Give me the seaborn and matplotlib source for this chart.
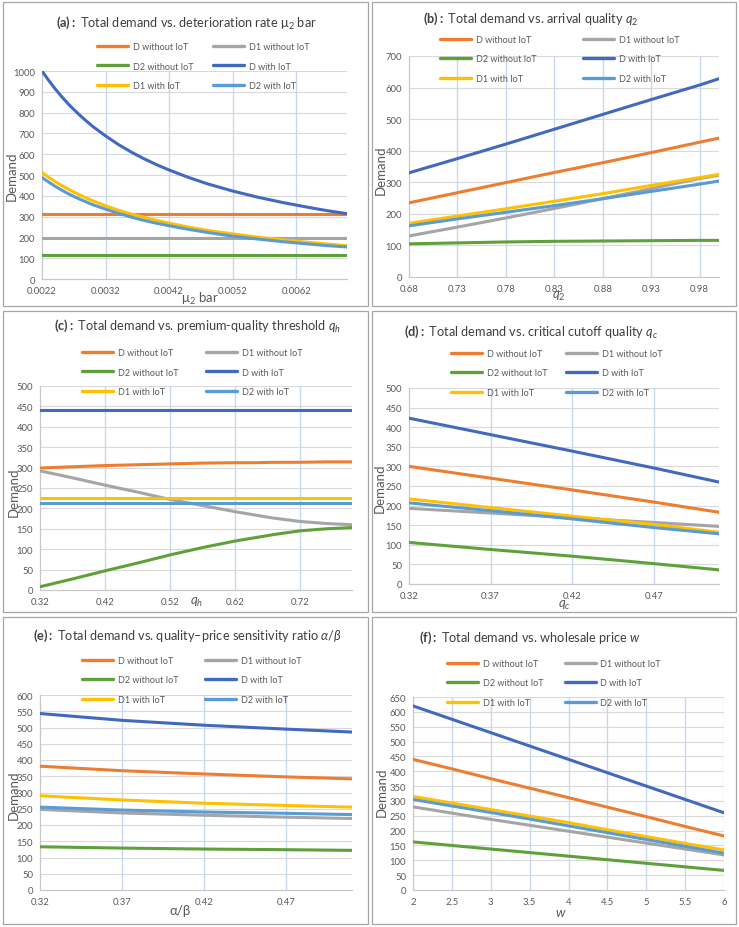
import matplotlib
matplotlib.use('Agg')
import matplotlib.pyplot as plt
import seaborn as sns
import pandas as pd
from matplotlib.patches import Rectangle

# ---------------- data ----------------
series = ['D without IoT', 'D1 without IoT', 'D2 without IoT',
          'D with IoT', 'D1 with IoT', 'D2 with IoT']
colors = ['#ED7D31', '#A5A5A5', '#5FA03A', '#4169C0', '#FFC000', '#5B9BD5']

# (a) deterioration rate mu2 bar
a_x = [0.0022, 0.0023, 0.0024, 0.0025, 0.0026, 0.0027, 0.0028, 0.0029, 0.0030,
       0.0032, 0.0034, 0.0036, 0.0038, 0.0040, 0.0042, 0.0045, 0.0048, 0.0052,
       0.0056, 0.0060, 0.0064, 0.0067, 0.0070]
a_d_wo = [312, 312, 312, 312, 312, 312, 312, 312, 312, 312, 312, 312,
          312, 312, 312, 312, 312, 312, 312, 312, 312, 312, 312]
a_d1_wo = [198, 198, 198, 198, 198, 198, 198, 198, 198, 198, 198, 198,
           198, 198, 198, 198, 198, 198, 198, 198, 198, 198, 198]
a_d2_wo = [113, 113, 113, 113, 113, 113, 113, 113, 113, 113, 113, 113,
           113, 113, 113, 113, 113, 113, 113, 113, 113, 113, 113]
a_d_w = [1000, 957, 917, 880, 846, 815, 786, 759, 733, 688, 647, 611,
         579, 550, 524, 489, 458, 423, 393, 367, 344, 328, 314]
a_d1_w = [512, 490, 470, 451, 434, 418, 403, 389, 376, 352, 331, 313,
          297, 282, 268, 250, 234, 217, 201, 188, 176, 168, 160]
a_d2_w = [488, 467, 447, 429, 412, 397, 383, 370, 357, 336, 316, 298,
          282, 268, 256, 239, 224, 206, 192, 179, 168, 160, 154]

# (b) arrival quality q2
b_x = [0.68, 0.73, 0.78, 0.83, 0.88, 0.93, 0.98, 1.00]
b_d_wo = [235, 267, 299, 331, 362, 394, 427, 440]
b_d1_wo = [130, 158, 187, 217, 248, 280, 312, 322]
b_d2_wo = [105, 108, 111, 113, 114, 115, 116, 116]
b_d_w = [330, 375, 421, 468, 515, 562, 608, 628]
b_d1_w = [170, 193, 216, 240, 264, 290, 315, 325]
b_d2_w = [162, 184, 205, 226, 248, 271, 294, 304]

# (c) premium-quality threshold qh
c_x = [0.32, 0.37, 0.42, 0.47, 0.52, 0.57, 0.62, 0.65, 0.68, 0.72, 0.76, 0.80]
c_d_wo = [299, 302, 305, 307, 309, 311, 312, 312, 313, 313, 314, 314]
c_d1_wo = [292, 275, 257, 240, 222, 207, 192, 184, 176, 168, 163, 160]
c_d2_wo = [8, 27, 47, 66, 86, 104, 120, 128, 136, 145, 150, 153]
c_d_w = [440, 440, 440, 440, 440, 440, 440, 440, 440, 440, 440, 440]
c_d1_w = [226, 226, 226, 226, 226, 226, 226, 226, 226, 226, 226, 226]
c_d2_w = [214, 214, 214, 214, 214, 214, 214, 214, 214, 214, 214, 214]

# (d) critical cutoff quality qc
d_x = [0.32, 0.37, 0.42, 0.47, 0.51]
d_d_wo = [300, 270, 240, 209, 183]
d_d1_wo = [193, 181, 169, 157, 147]
d_d2_wo = [106, 88, 71, 52, 36]
d_d_w = [423, 381, 339, 296, 260]
d_d1_w = [217, 195, 173, 152, 132]
d_d2_w = [207, 187, 166, 144, 128]

# (e) quality-price sensitivity ratio alpha/beta
e_x = [0.32, 0.37, 0.42, 0.47, 0.51]
e_d_wo = [381, 367, 357, 348, 342]
e_d1_wo = [248, 237, 230, 224, 220]
e_d2_wo = [133, 129, 126, 124, 122]
e_d_w = [543, 522, 507, 495, 486]
e_d1_w = [290, 277, 267, 260, 255]
e_d2_w = [255, 246, 240, 236, 232]

# (f) wholesale price w
f_x = [2, 2.5, 3, 3.5, 4, 4.5, 5, 5.5, 6]
f_d_wo = [440, 408, 375, 343, 311, 279, 247, 214, 182]
f_d1_wo = [280, 259, 238, 218, 198, 178, 158, 138, 118]
f_d2_wo = [162, 150, 138, 126, 114, 102, 90, 78, 66]
f_d_w = [620, 575, 530, 485, 440, 395, 350, 305, 260]
f_d1_w = [315, 293, 271, 249, 227, 203, 180, 157, 135]
f_d2_w = [305, 283, 261, 239, 216, 193, 170, 147, 124]

a_ticks = [0.0022, 0.0032, 0.0042, 0.0052, 0.0062]
b_ticks = [0.68, 0.73, 0.78, 0.83, 0.88, 0.93, 0.98]
c_ticks = [0.32, 0.42, 0.52, 0.62, 0.72]
d_ticks = [0.32, 0.37, 0.42, 0.47]
f_ticks = [2, 2.5, 3, 3.5, 4, 4.5, 5, 5.5, 6]

# ---------------- style ----------------
sns.set_style('white')
plt.rcParams['font.family'] = ['Lato', 'DejaVu Sans']
plt.rcParams['mathtext.fontset'] = 'custom'
plt.rcParams['mathtext.rm'] = 'Lato'
plt.rcParams['mathtext.it'] = 'Lato:italic'
plt.rcParams['mathtext.bf'] = 'Lato:bold'

W, H = 739, 928
fig = plt.figure(figsize=(W / 100, H / 100), dpi=100)
fig.patch.set_facecolor('white')

# panel frames
for (x0, y0, x1, y1) in [(3, 3, 368, 307), (372, 3, 736, 307),
                         (3, 312, 368, 613), (372, 312, 736, 613),
                         (3, 618, 368, 925), (372, 618, 736, 925)]:
    fig.patches.append(Rectangle((x0 / W, 1 - y1 / H), (x1 - x0) / W, (y1 - y0) / H,
                                 transform=fig.transFigure, fill=False,
                                 edgecolor='#A6A6A6', linewidth=0.9))

panels = [
    dict(box=(42, 72, 347, 280), x=a_x,
         ys=[a_d_wo, a_d1_wo, a_d2_wo, a_d_w, a_d1_w, a_d2_w],
         ticks=a_ticks, fmt='{:.4f}', xlim=(0.0022, 0.0070), ymax=1000, ystep=100,
         title=r'$\bf{(a):}$ Total demand vs. deterioration rate $\mathrm{\mu_2}$ bar',
         tpos=(186, 23), xlabel=r'$\mathrm{\mu_2}$ bar', xlpos=(200, 299), ylpos=(12, 176),
         leg=(97, 67), cs=2.2),
    dict(box=(409, 57, 719, 278), x=b_x,
         ys=[b_d_wo, b_d1_wo, b_d2_wo, b_d_w, b_d1_w, b_d2_w],
         ticks=b_ticks, fmt='{:.2f}', xlim=(0.68, 1.0), ymax=700, ystep=100,
         title=r'$\bf{(b):}$ Total demand vs. arrival quality $q_2$',
         tpos=(531, 19), xlabel=r'$q_2$', xlpos=(559, 296), ylpos=(381, 170),
         leg=(440, 60), cs=5.2),
    dict(box=(40, 387, 352, 591), x=c_x,
         ys=[c_d_wo, c_d1_wo, c_d2_wo, c_d_w, c_d1_w, c_d2_w],
         ticks=c_ticks, fmt='{:.2f}', xlim=(0.32, 0.80), ymax=500, ystep=50,
         title=r'$\bf{(c):}$ Total demand vs. premium-quality threshold $q_h$',
         tpos=(197, 326), xlabel=r'$q_h$', xlpos=(197, 602), ylpos=(14, 492),
         leg=(82, 373), cs=3.1),
    dict(box=(409, 389, 719, 585), x=d_x,
         ys=[d_d_wo, d_d1_wo, d_d2_wo, d_d_w, d_d1_w, d_d2_w],
         ticks=d_ticks, fmt='{:.2f}', xlim=(0.32, 0.51), ymax=500, ystep=50,
         title=r'$\bf{(d):}$ Total demand vs. critical cutoff quality $q_c$',
         tpos=(531, 332), xlabel=r'$q_c$', xlpos=(564, 605), ylpos=(380, 488),
         leg=(451, 374), cs=2.1),
    dict(box=(40, 696, 352, 891), x=e_x,
         ys=[e_d_wo, e_d1_wo, e_d2_wo, e_d_w, e_d1_w, e_d2_w],
         ticks=d_ticks, fmt='{:.2f}', xlim=(0.32, 0.51), ymax=600, ystep=50,
         title=r'$\bf{(e):}$ Total demand vs. quality–price sensitivity ratio $\alpha/\beta$',
         tpos=(187, 636), xlabel='α/β', xlpos=(180, 911), ylpos=(14, 795),
         leg=(82, 681), cs=3.0),
    dict(box=(413, 698, 724, 891), x=f_x,
         ys=[f_d_wo, f_d1_wo, f_d2_wo, f_d_w, f_d1_w, f_d2_w],
         ticks=f_ticks, fmt='{:g}', xlim=(2, 6), ymax=650, ystep=50,
         title=r'$\bf{(f):}$ Total demand vs. wholesale price $w$',
         tpos=(530, 638), xlabel=r'$w$', xlpos=(561, 913), ylpos=(382, 792),
         leg=(447, 684), cs=2.4),
]

tick_col = '#595959'
for p in panels:
    l, t, r, b = p['box']
    ax = fig.add_axes([l / W, 1 - b / H, (r - l) / W, (b - t) / H])
    frames = []
    for name, yv in zip(series, p['ys']):
        frames.append(pd.DataFrame({'x': p['x'], 'Demand': yv, 'series': name}))
    df = pd.concat(frames, ignore_index=True)
    sns.lineplot(data=df, x='x', y='Demand', hue='series', hue_order=series,
                 palette=dict(zip(series, colors)), linewidth=2.2, ax=ax,
                 zorder=3, estimator=None, sort=False)

    ax.set_xlim(*p['xlim'])
    ax.set_ylim(0, p['ymax'])
    yt = list(range(0, p['ymax'] + 1, p['ystep']))
    ax.set_yticks(yt)
    ax.set_xticks(p['ticks'])
    ax.set_xticklabels([p['fmt'].format(v) for v in p['ticks']])
    ax.tick_params(length=0, labelsize=6.8, labelcolor=tick_col, pad=5)

    # gridlines: gray horizontal, light blue vertical (Excel look)
    for v in yt[1:]:
        ax.axhline(v, color='#D9D9D9', linewidth=0.8, zorder=1)
    for v in p['ticks'][1:]:
        ax.axvline(v, color='#C7D7F0', linewidth=1.0, zorder=1)

    for s in ['top', 'right']:
        ax.spines[s].set_visible(False)
    for s in ['left', 'bottom']:
        ax.spines[s].set_color('#C8C8C8')
        ax.spines[s].set_linewidth(0.9)

    ax.set_xlabel('')
    ax.set_ylabel('')
    fig.text(p['xlpos'][0] / W, 1 - p['xlpos'][1] / H, p['xlabel'],
             ha='center', va='center', fontsize=9.5, color=tick_col)
    fig.text(p['ylpos'][0] / W, 1 - p['ylpos'][1] / H, 'Demand', rotation=90,
             ha='center', va='center', fontsize=9.5, color=tick_col)
    fig.text(p['tpos'][0] / W, 1 - p['tpos'][1] / H, p['title'],
             ha='center', va='center', fontsize=9.2, color='#404040')

    # Excel fills legend row by row; matplotlib fills column by column
    handles, labels = ax.get_legend_handles_labels()
    order = [0, 2, 4, 1, 3, 5]
    leg = ax.legend([handles[i] for i in order], [labels[i] for i in order],
                    ncol=2, loc='center left',
                    bbox_to_anchor=(p['leg'][0] / W, 1 - p['leg'][1] / H),
                    bbox_transform=fig.transFigure, frameon=False,
                    fontsize=6.5, handlelength=3.4, handletextpad=0.55,
                    columnspacing=p['cs'], labelspacing=1.15,
                    borderpad=0, borderaxespad=0)
    for txt in leg.get_texts():
        txt.set_color(tick_col)
    for ln in leg.get_lines():
        ln.set_linewidth(2.4)

fig.savefig('out.png', dpi=100, facecolor='white')
